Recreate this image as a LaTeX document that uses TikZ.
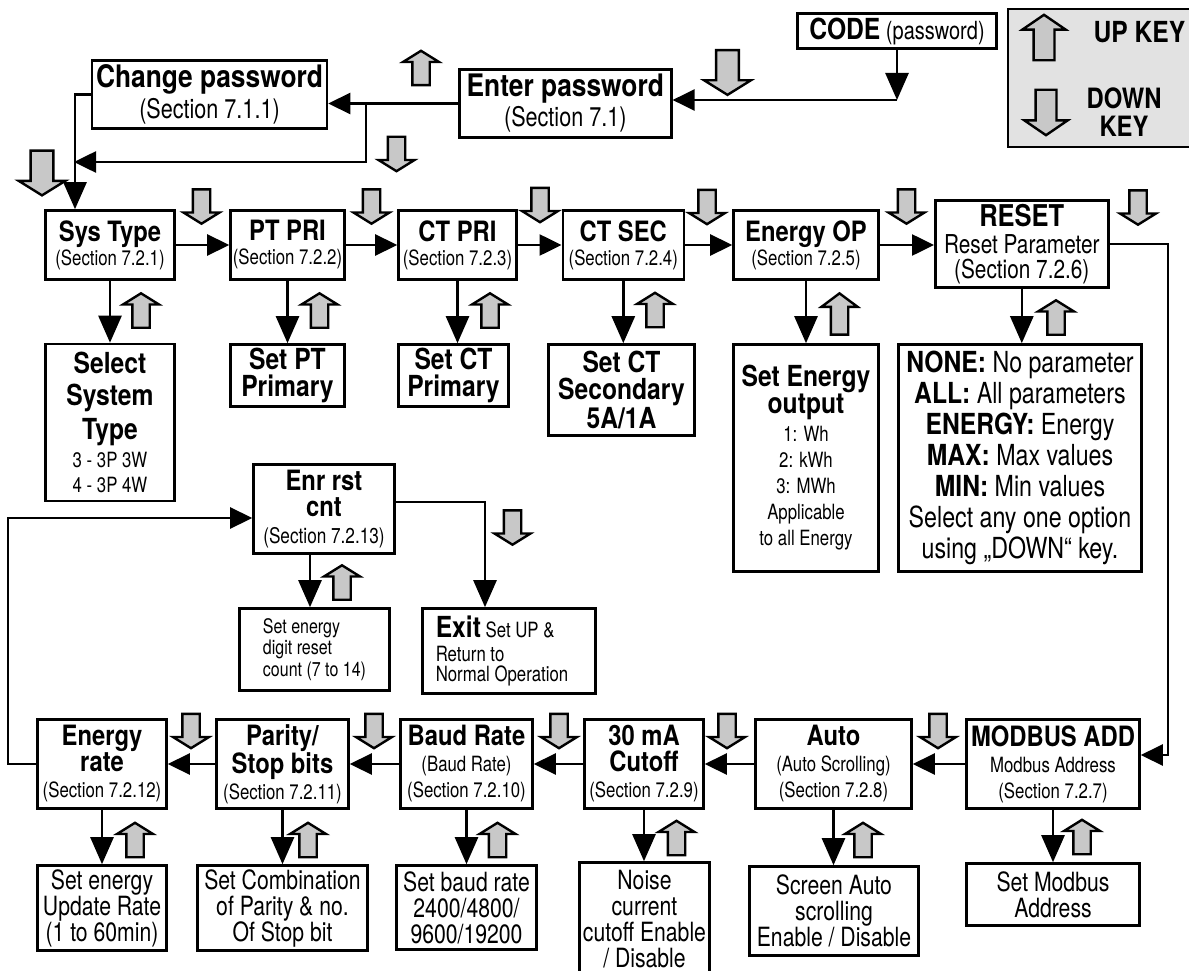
\documentclass[tikz,border=0pt]{standalone}
\usepackage{fontspec}
\setmainfont{TeX Gyre Heros}[UprightFeatures={FakeStretch=0.8}, BoldFeatures={FakeStretch=0.85}]
\usetikzlibrary{arrows.meta}
\definecolor{keygray}{RGB}{200,200,200}
\definecolor{legendgray}{RGB}{226,226,226}
\newcommand\szf[2]{\fontsize{#1}{#2}\selectfont}
\newcommand\bsz[2]{{\bfseries\fontsize{#1}{#1}\selectfont #2}}
\begin{document}
\begin{tikzpicture}[x=1pt,y=-1pt,
  box/.style={draw, line width=2.6pt, fill=white, inner sep=0pt, align=center},
  sz/.style 2 args={minimum width=#1pt, minimum height=#2pt},
  ln/.style={line width=2.6pt},
  ar/.style={ln, -{Triangle[length=22pt,width=21pt]}},
  var/.style={ln, -{Triangle[length=27pt,width=23pt]}},
  keyarrow/.style={draw=black, fill=keygray, line width=2.4pt},
  pics/dnk/.style={code={\path[keyarrow,#1] (-8.7,-17.2) -- (8.7,-17.2) -- (8.7,6) -- (18,6) -- (0,17.2) -- (-18,6) -- (-8.7,6) -- cycle;}},
  pics/dnk/.default={},
  pics/upk/.style={code={\path[keyarrow,#1] (-8.7,17.2) -- (8.7,17.2) -- (8.7,-6) -- (18,-6) -- (0,-17.2) -- (-18,-6) -- (-8.7,-6) -- cycle;}},
  pics/upk/.default={},
  rowtwo/.style={font=\szf{21}{24}},
  rowfour/.style={font=\szf{21}{26}},
  optb/.style={font=\bfseries\szf{29}{27}},
  optd/.style={font=\szf{26.5}{26}}
]
\useasboundingbox (0,0) rectangle (1189,971);
\fill[white] (0,0) rectangle (1189,971);

% legend
\path[draw=black, line width=2pt, fill=legendgray] (1008,9.5) rectangle (1200,147.5);
\pic at (1044,37.5) {upk={xscale=1.2,yscale=1.32}};
\pic at (1046,112.5) {dnk={xscale=1.2,yscale=1.32}};
\node[font=\bfseries\szf{29}{26}] (upkeytxt) at (1139.5,32.5) {UP KEY};
\node[font=\bfseries\szf{28}{28}, align=center] (dnkeytxt) at (1124,112) {DOWN\\KEY};

% top boxes
\node[box, sz={199}{35}, font=\szf{25}{26}] (code) at (897,31) {\bsz{29}{CODE} (password)};
\node[box, sz={212}{68}, font=\szf{27}{30}] (enter) at (565.3,103.5) {\bsz{31}{Enter password}\\(Section 7.1)};
\node[box, sz={235}{68}, font=\szf{27}{31}] (chg) at (209.5,94.5) {\bsz{31}{Change password}\\(Section 7.1.1)};

% row 2
\node[box, sz={129}{69}, rowtwo] (sys) at (110,245) {\bsz{28}{Sys Type}\\(Section 7.2.1)};
\node[box, sz={114}{69}, rowtwo] (ptpri) at (287.5,245) {\bsz{28}{PT PRI}\\(Section 7.2.2)};
\node[box, sz={118}{69}, rowtwo] (ctpri) at (457.5,245) {\bsz{28}{CT PRI}\\(Section 7.2.3)};
\node[box, sz={121}{69}, rowtwo] (ctsec) at (623.3,245) {\bsz{28}{CT SEC}\\(Section 7.2.4)};
\node[box, sz={145}{69}, rowtwo] (enop) at (806,245) {\bsz{28}{Energy OP}\\(Section 7.2.5)};
\node[box, sz={173}{87}, font=\szf{26}{24.5}] (reset) at (1021.8,244) {\bsz{30}{RESET}\\[3pt]Reset Parameter\\(Section 7.2.6)};

% row 3 option boxes
\node[box, sz={129}{157}, font=\szf{21}{25}] (selsys) at (110,422.5) {\bsz{29}{Select}\\[7pt]\bsz{29}{System}\\[5pt]\bsz{29}{Type}\\[3pt]3 - 3P 3W\\4 - 3P 4W};
\node[box, sz={114}{62}, optb] (setpt) at (287.5,375.5) {Set PT\\Primary};
\node[box, sz={110}{62}, optb] (setct) at (453.5,375.5) {Set CT\\Primary};
\node[box, sz={146}{91}, optb] (setsec) at (621.5,390) {Set CT\\Secondary\\5A/1A};
\node[box, sz={145}{227}, font=\szf{21}{26}] (seten) at (806,458) {\bsz{29}{Set Energy}\\[1pt]\bsz{29}{output}\\[2pt]1: Wh\\2: kWh\\3: MWh\\Applicable\\to all Energy};
\node[box, sz={243}{227}, font=\szf{29}{31}] (resopt) at (1020,458) {\textbf{NONE:} No parameter\\\textbf{ALL:} All parameters\\\textbf{ENERGY:} Energy\\\textbf{MAX:} Max values\\\textbf{MIN:} Min values\\Select any one option\\using „DOWN“ key.};

% middle
\node[box, sz={141}{89}, font=\szf{21.5}{26}] (enr) at (324,509) {\bsz{28}{Enr rst}\\\bsz{28}{cnt}\\[0.5pt](Section 7.2.13)};
\node[box, sz={150}{82}, font=\szf{20}{21.7}, align=left] (digit) at (314.5,649.5) {Set energy\\digit reset\\count (7 to 14)};
\node[box, sz={173}{85}, font=\szf{21}{20.5}, align=left] (exit) at (509,651) {\bsz{29}{Exit} Set UP \&\\[3.2pt]Return to\\Normal Operation\hspace*{14pt}};

% row 4
\node[box, sz={129}{89}, rowfour] (erate) at (102,764) {\bsz{28}{Energy}\\\bsz{28}{rate}\\(Section 7.2.12)};
\node[box, sz={132}{89}, rowfour] (parity) at (282.5,764) {\bsz{28}{Parity/}\\\bsz{28}{Stop bits}\\(Section 7.2.11)};
\node[box, sz={132}{89}, rowfour] (baud) at (466.5,764) {\bsz{28}{Baud Rate}\\(Baud Rate)\\(Section 7.2.10)};
\node[box, sz={119}{89}, rowfour] (cutoff) at (644,764) {\bsz{28}{30 mA}\\\bsz{28}{Cutoff}\\(Section 7.2.9)};
\node[box, sz={156}{89}, rowfour] (auto) at (833.5,764) {\bsz{28}{Auto}\\(Auto Scrolling)\\(Section 7.2.8)};
\node[box, sz={173}{89}, rowfour] (modbus) at (1053,764) {\bsz{28}{MODBUS ADD}\\Modbus Address\\(Section 7.2.7)};

% row 5 option boxes
\node[box, sz={129}{85}, optd] (setrate) at (102,908) {Set energy\\Update Rate\\(1 to 60min)};
\node[box, sz={170}{85}, optd] (setcomb) at (282.5,908) {Set Combination\\of Parity \& no.\\Of Stop bit};
\node[box, sz={140}{84}, optd] (setbaud) at (466.5,907.5) {Set baud rate\\2400/4800/\\9600/19200};
\node[box, sz={130}{113}, optd] (noise) at (644.5,919) {Noise\\current\\cutoff Enable\\/ Disable};
\node[box, sz={169}{89}, optd] (screen) at (834,911) {Screen Auto\\scrolling\\Enable / Disable};
\node[box, sz={173}{62}, optd] (setmod) at (1053,894.5) {Set Modbus\\Address};

% connectors top
\coordinate (cj) at (897,100);
\draw[var] (code) -- (cj);
\draw[ar] (cj) -- (cj -| enter.east);
\draw[ar] (enter.west) -- (enter.west -| chg.east);
\coordinate (j2) at (366,103.5);
\coordinate (j3) at (366,162);
\coordinate (j4) at (74,162);
\draw[ar] (j2) -- (j3) -- (j4);
\coordinate (cs) at (75,94.5);
\draw[var] (chg.west) -- (cs) -- (cs |- sys.north);

% row 2 connectors
\draw[ar] (sys) -- (ptpri);
\draw[ar] (ptpri) -- (ctpri);
\draw[ar] (ctpri) -- (ctsec);
\draw[ar] (ctsec) -- (enop);
\draw[ar] (enop.east) -- (enop.east -| reset.west);
\draw[var] (sys.south) -- (sys.south |- selsys.north);
\draw[var] (ptpri.south) -- (ptpri.south |- setpt.north);
\draw[var] (ctpri.south) -- (ctpri.south |- setct.north);
\draw[var] (ctsec.south) -- (ctsec.south |- setsec.north);
\draw[var] (enop.south) -- (enop.south |- seten.north);
\draw[var] (reset.south) -- (reset.south |- resopt.north);

% right loop
\coordinate (r1) at (1168,244);
\coordinate (r2) at (1168,755);
\draw[ar] (reset.east) -- (r1) -- (r2) -- (r2 -| modbus.east);

% row 4 connectors
\draw[ar] (modbus) -- (auto);
\draw[ar] (auto) -- (cutoff);
\draw[ar] (cutoff) -- (baud);
\draw[ar] (baud) -- (parity);
\draw[ar] (parity) -- (erate);
\draw[var] (erate.south) -- (erate.south |- setrate.north);
\draw[var] (parity.south) -- (parity.south |- setcomb.north);
\draw[var] (baud.south) -- (baud.south |- setbaud.north);
\draw[var] (cutoff.south) -- (cutoff.south |- noise.north);
\draw[var] (auto.south) -- (auto.south |- screen.north);
\draw[var] (modbus.south) -- (modbus.south |- setmod.north);

% left loop and enr
\coordinate (l1) at (8,764);
\coordinate (l2) at (8,518);
\draw[ar] (erate.west) -- (l1) -- (l2) -- (l2 -| enr.west);
\coordinate (e1) at (485,502);
\draw[var] (enr.east |- e1) -- (e1) -- (e1 |- exit.north);
\coordinate (d1) at (310,555);
\draw[var] (enr.south -| d1) -- (d1 |- digit.north);

% gray key arrows
\pic at (42,173) {dnk={scale=1.3}};
\pic at (727.5,72.5) {dnk={scale=1.3}};
\pic at (421,68) {upk};
\pic at (396.5,154) {dnk};
\pic at (201.5,206.5) {dnk};
\pic at (371.5,206.5) {dnk};
\pic at (540,205) {dnk};
\pic at (707,207) {dnk};
\pic at (906.5,206.5) {dnk};
\pic at (1138,207.5) {dnk};
\pic at (141,310.5) {upk};
\pic at (319.5,310.5) {upk};
\pic at (490,310.5) {upk};
\pic at (655,310) {upk};
\pic at (839.5,314) {upk={yscale=1.2}};
\pic at (1056,317.5) {upk};
\pic at (512.5,527.5) {dnk};
\pic at (342,582.5) {upk};
\pic at (191,731) {dnk};
\pic at (374,731) {dnk};
\pic at (559,731) {dnk};
\pic at (727,731) {dnk};
\pic at (938,731) {dnk};
\pic at (135,840) {upk};
\pic at (308,840) {upk};
\pic at (497.5,840) {upk};
\pic at (676.5,838) {upk};
\pic at (863,840) {upk};
\pic at (1082,837) {upk};
\end{tikzpicture}
\end{document}
